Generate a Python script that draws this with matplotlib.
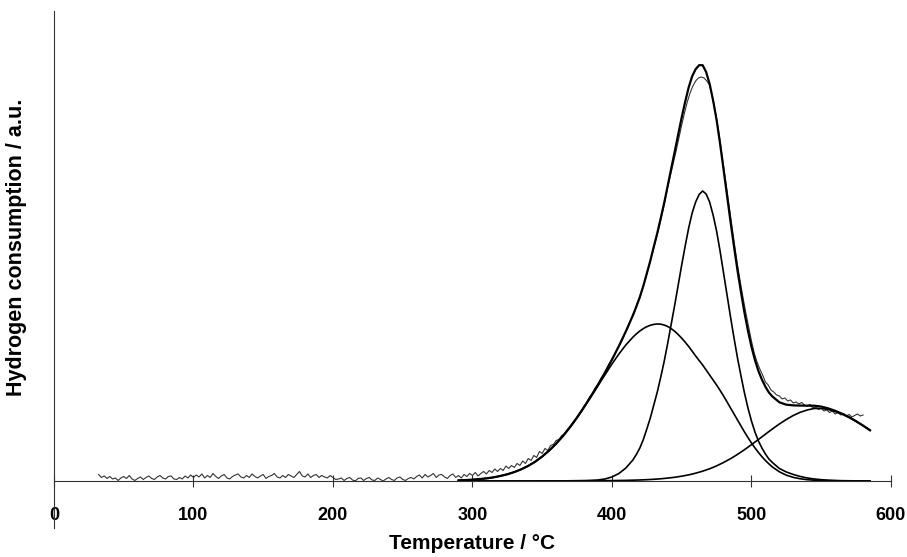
import numpy as np
import matplotlib
matplotlib.use("Agg")
from matplotlib import pyplot as plt

plt.rcParams['font.family'] = ['Liberation Sans', 'DejaVu Sans']

# fitted peaks (a.u.): 5 degC steps on the tails, 2.5 degC steps around the maxima
temp_fit = np.concatenate([np.arange(290, 415, 5), np.arange(415, 515, 2.5), np.arange(515, 586, 5)])
peak_low = [0.6, 0.9, 1.3, 1.9, 2.6, 3.6, 5.0, 6.7, 8.9, 11.7,
            15.1, 19.3, 24.4, 30.3, 37.2, 45.0, 53.7, 63.2, 73.5, 84.2,
            95.2, 106.2, 117.0, 127.0, 136.1,
            143.8, 147.1, 150.0, 152.4, 154.3, 155.7, 156.6, 157.0, 156.8, 155.9,
            154.5, 152.3, 149.7, 146.4, 142.8, 138.8, 134.5, 129.8, 125.0, 120.5,
            116.0, 111.0, 106.0, 101.0, 96.0, 90.6, 85.0, 79.1, 73.0, 67.0,
            61.0, 55.0, 49.0, 43.4, 38.0, 33.1, 28.5, 24.3, 20.5, 17.1,
            14.0, 9.2, 5.8, 3.6, 2.2, 1.3, 0.8, 0.5, 0.3, 0.2,
            0.1, 0.1, 0.1, 0.0, 0.0]
peak_mid = [0.0, 0.0, 0.0, 0.0, 0.0, 0.0, 0.0, 0.0, 0.0, 0.0,
            0.0, 0.0, 0.0, 0.1, 0.1, 0.1, 0.2, 0.3, 0.4, 0.6,
            1.0, 2.0, 4.0, 7.5, 13.0,
            21.0, 26.5, 33.0, 41.5, 52.0, 63.0, 76.0, 89.0, 104.0, 120.0,
            138.0, 157.0, 176.0, 196.0, 216.0, 235.0, 253.0, 268.0, 279.0, 286.5,
            290.0, 287.0, 279.0, 266.0, 250.0, 230.0, 208.0, 186.0, 164.0, 143.0,
            123.0, 105.0, 88.0, 73.0, 60.0, 49.0, 40.0, 33.0, 27.0, 22.0,
            18.5, 12.5, 9.0, 6.5, 4.5, 3.0, 2.0, 1.3, 0.8, 0.5,
            0.3, 0.2, 0.1, 0.1, 0.0]
peak_high = [0.0, 0.0, 0.0, 0.0, 0.0, 0.0, 0.0, 0.0, 0.0, 0.0,
             0.0, 0.0, 0.1, 0.1, 0.1, 0.1, 0.1, 0.1, 0.1, 0.2,
             0.2, 0.3, 0.4, 0.5, 0.6,
             0.8, 0.9, 1.0, 1.15, 1.3, 1.5, 1.7, 1.95, 2.2, 2.55,
             2.9, 3.3, 3.7, 4.25, 4.8, 5.45, 6.1, 6.9, 7.8, 8.8,
             9.8, 11.0, 12.2, 13.6, 15.1, 16.8, 18.5, 20.4, 22.3, 24.4,
             26.6, 28.9, 31.3, 33.8, 36.3, 38.9, 41.5, 44.1, 46.8, 49.4,
             52.0, 57.0, 61.5, 65.5, 68.7, 71.0, 72.5, 72.6, 71.5, 69.5,
             66.8, 63.5, 59.6, 55.3, 50.7]

# measured TPR signal (a.u.), every 2 degC from 32 to 580
temp_exp = np.arange(32, 581, 2)
signal = [6.5, 3.5, 5, 2.5, 4.5, 2, 3, 0.5, 3, 4.5,
          2.5, 5.5, 2, 0.5, 2.5, 4, 1.5, 3.5, 5, 2.5,
          1.5, 4, 5.5, 3, 2, 4.5, 5, 2, 1.5, 3.5,
          2, 5, 3, 6,
          3.5, 6, 4, 7, 3, 5.5, 3.5, 7.5, 4.5, 2.5,
          5, 6.5, 3, 2, 4.5, 6, 7, 4, 3, 5.5,
          3.5, 7, 4.5, 3, 5, 6.5, 2.5, 4.5, 5.5, 7.5,
          4, 3, 5.5, 3.5, 6.5, 5, 3.5, 6.5, 9.5, 5,
          4, 7, 3.5, 5.5, 6.5, 3.5, 5.5, 4, 3, 5.5,
          3.5, 1.5, 2, 3, 0.5, 2.5, 3.5, 1, 0, 2.5,
          3, 0.5, 2.5, 3.5, 1, 0.5, 3, 1.5, 0, 2,
          3.5, 1.5, 0.5, 3, 4, 1.5, 0.5, 2.5, 3.5, 2,
          4.5, 6, 3, 6.5, 4, 5.5, 7.5, 3.5, 6, 6.5,
          4, 2.5, 5.5, 7, 3.5, 5.5, 3, 6.5, 4.5, 7.5,
          5.5, 8.5, 5, 7.5, 9.5, 7, 10.5, 8.5, 12, 9.5,
          12.5, 10.5, 15, 12.5, 15.5, 13.5, 17.5, 15.5, 20, 17.5,
          22.5, 20.5, 25.5, 23.5, 29.5, 27.5, 32.5, 30.5, 35.5, 36.5,
          40.5, 41.5, 45.5, 47, 51.5, 54.5, 58.5, 61.5, 66, 69,
          75, 78, 84, 87, 93, 96, 102, 106, 110, 117,
          121, 126, 133, 137, 143, 150, 155, 163, 168, 177,
          183, 193, 202, 212, 223, 233, 244, 255, 267, 280,
          294, 306, 318, 330, 343, 356, 368, 379, 388, 395,
          400, 403, 404, 403, 400, 396, 384, 370, 354, 335,
          315, 295, 275, 255, 235, 216, 199, 183, 168, 154,
          140,
          128, 119, 112, 106, 99, 96, 91, 89, 86, 85,
          82, 83, 80, 81, 78, 79, 77, 78.5, 76, 75,
          76.5, 73, 74, 71.5, 72.5, 70, 71, 68.5, 70, 67,
          68.5, 66, 67.5, 65, 66.5, 64, 65.5, 67, 65, 66]

envelope = np.array(peak_low) + np.array(peak_mid) + np.array(peak_high)

fig = plt.figure(figsize=(9.07, 5.57), dpi=100)
ax = fig.add_axes([0.0595, 0.0521, 0.9228, 0.9282])

ax.plot(temp_exp, signal, c="#333333", lw=0.8)
ax.plot(temp_fit, peak_low, c="k", lw=1.2)
ax.plot(temp_fit, peak_mid, c="k", lw=1.2)
ax.plot(temp_fit, peak_high, c="k", lw=1.2)
ax.plot(temp_fit, envelope, c="k", lw=1.6)

ax.set_xlim(0, 600)
ax.set_ylim(-47, 470)
ax.spines['bottom'].set_position(('data', 0))
ax.spines['top'].set_visible(False)
ax.spines['right'].set_visible(False)
for s in ['left', 'bottom']:
    ax.spines[s].set_color('#333333')
    ax.spines[s].set_linewidth(0.8)

ax.set_xticks(np.arange(0, 601, 100))
ax.tick_params(axis='x', direction='inout', length=8, width=0.8, color='#333333',
               pad=15, labelsize=13)
for lab in ax.get_xticklabels():
    lab.set_fontweight('bold')
ax.set_yticks([])

ax.set_xlabel("Temperature / °C", fontsize=15, fontweight='bold')
ax.xaxis.set_label_coords(0.5, -0.012)
ax.set_ylabel("Hydrogen consumption / a.u.", fontsize=15.5, fontweight='bold')
ax.yaxis.set_label_coords(-0.032, 0.543)

fig.savefig('out.png', dpi=100)
